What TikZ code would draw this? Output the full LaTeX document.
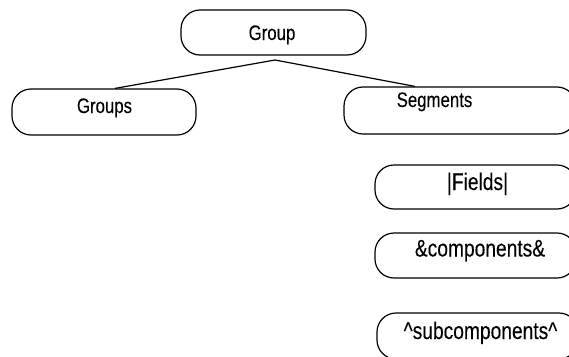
\documentclass[tikz,border=0pt]{standalone}
\usepackage{fontspec}
\setmainfont{Liberation Sans}[FakeStretch=0.8,FakeBold=0.15]
\begin{document}
\begin{tikzpicture}[x=1pt,y=-1pt,
  box/.style={draw, line width=1.2pt, rounded corners=19pt, inner sep=0pt},
  upper/.style={anchor=base, inner sep=0pt, font=\fontsize{21}{25}\selectfont},
  lower/.style={anchor=base, inner sep=0pt, font=\fontsize{24}{28}\selectfont},
  link/.style={line width=1.2pt}]
\clip (0,0) rectangle (569,356);
\fill[white] (0,0) rectangle (569,356);
% boxes
\node[box, minimum width=185pt, minimum height=45pt] (group) at (273.5,32.5) {};
\node[box, minimum width=184pt, minimum height=46pt] (groups) at (104,112) {};
\node[box, minimum width=232pt, minimum height=47pt] (segments) at (460,110.5) {};
\node[box, minimum width=201pt, minimum height=44pt] (fields) at (475.5,187) {};
\node[box, minimum width=201pt, minimum height=45pt] (components) at (475.5,255.5) {};
\node[box, minimum width=201pt, minimum height=46pt] (subcomponents) at (477.5,336) {};
% texts
\node[upper] (tgroup) at (272,40) {Group};
\node[upper] (tgroups) at (104.5,113) {Groups};
\node[upper] (tsegments) at (434.5,107) {Segments};
\node[lower] (tfields) at (477.5,190) {|Fields|};
\node[lower] (tcomponents) at (480,256.5) {\&components\&};
\node[lower] (tsubcomponents) at (480.5,339) {\textasciicircum subcomponents\textasciicircum};
% connectors
\coordinate (apex) at (275,60);
\draw[link] ([xshift=11pt]groups.north) -- (apex) -- ([xshift=-45pt]segments.north);
\end{tikzpicture}
\end{document}
